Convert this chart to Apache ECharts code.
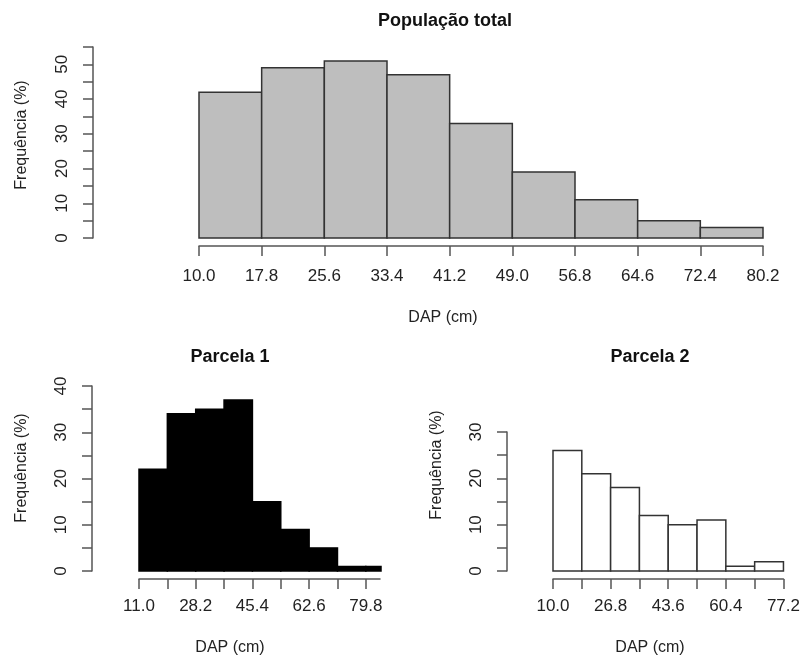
<!DOCTYPE html>
<html>
<head>
<meta charset="utf-8">
<script src="https://cdn.jsdelivr.net/npm/echarts@6/dist/echarts.min.js"></script>
<style>
html,body{margin:0;padding:0;background:#fff;}
#chart{width:803px;height:660px;}
</style>
</head>
<body>
<div id="chart"></div>
<script>
// ---- data ----
const topBreaks = [10.0, 17.8, 25.6, 33.4, 41.2, 49.0, 56.8, 64.6, 72.4, 80.2];
const topFreq = [42, 49, 51, 47, 33, 19, 11, 5, 3];
const topXLabels = [10.0, 17.8, 25.6, 33.4, 41.2, 49.0, 56.8, 64.6, 72.4, 80.2];
const topYTicks = [0, 5, 10, 15, 20, 25, 30, 35, 40, 45, 50, 55];
const topYLabels = [0, 10, 20, 30, 40, 50];

const p1Breaks = [11.0, 19.6, 28.2, 36.8, 45.4, 54.0, 62.6, 71.2, 79.8, 88.4];
const p1Freq = [22, 34, 35, 37, 15, 9, 5, 1, 1];
const p1XTicks = [11.0, 19.6, 28.2, 36.8, 45.4, 54.0, 62.6, 71.2, 79.8];
const p1XLabels = [11.0, 28.2, 45.4, 62.6, 79.8];
const p1YTicks = [0, 5, 10, 15, 20, 25, 30, 35, 40];
const p1YLabels = [0, 10, 20, 30, 40];

const p2Breaks = [10.0, 18.4, 26.8, 35.2, 43.6, 52.0, 60.4, 68.8, 77.2];
const p2Freq = [26, 21, 18, 12, 10, 11, 1, 2];
const p2XTicks = [10.0, 18.4, 26.8, 35.2, 43.6, 52.0, 60.4, 68.8, 77.2];
const p2XLabels = [10.0, 26.8, 43.6, 60.4, 77.2];
const p2YTicks = [0, 5, 10, 15, 20, 25, 30];
const p2YLabels = [0, 10, 20, 30];

const FONT = 'Liberation Sans, Arial, sans-serif';
const TXT = '#222';
const AXC = '#555';

function histData(breaks, freq) {
  return freq.map((f, i) => [breaks[i], breaks[i + 1], f]);
}

function renderItem(params, api) {
  const x0 = api.value(0), x1 = api.value(1), y = api.value(2);
  const p0 = api.coord([x0, y]);
  const p1 = api.coord([x1, 0]);
  const cs = params.coordSys;
  const rect = echarts.graphic.clipRectByRect(
    { x: p0[0], y: p0[1], width: p1[0] - p0[0], height: p1[1] - p0[1] },
    { x: cs.x, y: cs.y, width: cs.width + 1, height: cs.height + 1 }
  );
  return rect && { type: 'rect', shape: rect, style: api.style() };
}

function xAxisCfg(idx, min, max, ticks, labels, margin) {
  return {
    type: 'value', gridIndex: idx, min: min, max: max,
    offset: 8,
    splitLine: { show: false },
    axisLine: { show: true, onZero: false, lineStyle: { color: AXC, width: 1.5 } },
    axisTick: { show: true, length: 10, lineStyle: { color: AXC, width: 1.5 }, customValues: ticks },
    axisLabel: { show: true, customValues: labels, margin: margin, color: TXT, fontSize: 17, fontFamily: FONT,
      formatter: v => Number(v).toFixed(1), hideOverlap: false, showMinLabel: true, showMaxLabel: true }
  };
}
function yAxisCfg(idx, max, offset, ticks, labels) {
  return {
    type: 'value', gridIndex: idx, min: 0, max: max,
    offset: offset,
    splitLine: { show: false },
    axisLine: { show: true, onZero: false, lineStyle: { color: AXC, width: 1.5 } },
    axisTick: { show: true, length: 10, lineStyle: { color: AXC, width: 1.5 }, customValues: ticks },
    axisLabel: { show: true, customValues: labels, rotate: 90, margin: 22, color: TXT, fontSize: 17, fontFamily: FONT,
      showMinLabel: true, showMaxLabel: true }
  };
}

const chart = echarts.init(document.getElementById('chart'), null, { renderer: 'canvas' });

function txt(x, y, text) {
  return {
    type: 'text', x: x, y: y,
    style: { text: text, fill: TXT, font: '16px ' + FONT, textAlign: 'center', textVerticalAlign: 'middle' }
  };
}
function title(x, y, text) {
  return {
    type: 'text', x: x, y: y,
    style: { text: text, fill: '#111', font: 'bold 18px ' + FONT, textAlign: 'center', textVerticalAlign: 'middle' }
  };
}
function ytitle(x, y, text) {
  return {
    type: 'text', x: x, y: y, rotation: Math.PI / 2,
    style: { text: text, fill: TXT, font: '16px ' + FONT, textAlign: 'center', textVerticalAlign: 'middle' }
  };
}

chart.setOption({
  backgroundColor: '#fff',
  animation: false,
  grid: [
    { left: 199, top: 47, width: 564, height: 191 },
    { left: 139, top: 386, width: 241, height: 185 },
    { left: 553, top: 432, width: 232, height: 139 }
  ],
  xAxis: [
    xAxisCfg(0, 10.0, 80.2, topXLabels, topXLabels, 22),
    xAxisCfg(1, 11.0, 84.1, p1XTicks, p1XLabels, 19),
    xAxisCfg(2, 10.0, 77.2, p2XTicks, p2XLabels, 19)
  ],
  yAxis: [
    yAxisCfg(0, 55, 106, topYTicks, topYLabels),
    yAxisCfg(1, 40, 47, p1YTicks, p1YLabels),
    yAxisCfg(2, 30, 46, p2YTicks, p2YLabels)
  ],
  series: [
    { type: 'custom', xAxisIndex: 0, yAxisIndex: 0, renderItem: renderItem,
      encode: { x: [0, 1], y: 2 }, data: histData(topBreaks, topFreq),
      itemStyle: { color: '#bebebe', borderColor: '#333', borderWidth: 1.5 } },
    { type: 'custom', xAxisIndex: 1, yAxisIndex: 1, renderItem: renderItem,
      encode: { x: [0, 1], y: 2 }, data: histData(p1Breaks, p1Freq),
      itemStyle: { color: '#000', borderColor: '#000', borderWidth: 1.5 } },
    { type: 'custom', xAxisIndex: 2, yAxisIndex: 2, renderItem: renderItem,
      encode: { x: [0, 1], y: 2 }, data: histData(p2Breaks, p2Freq),
      itemStyle: { color: '#fff', borderColor: '#333', borderWidth: 1.5 } }
  ],
  graphic: [
    title(445, 21, 'População total'),
    ytitle(22, 135, 'Frequência (%)'),
    txt(443, 318, 'DAP (cm)'),
    title(230, 357, 'Parcela 1'),
    ytitle(22, 468, 'Frequência (%)'),
    txt(230, 648, 'DAP (cm)'),
    title(650, 357, 'Parcela 2'),
    ytitle(437, 465, 'Frequência (%)'),
    txt(650, 648, 'DAP (cm)')
  ]
});
</script>
</body>
</html>
